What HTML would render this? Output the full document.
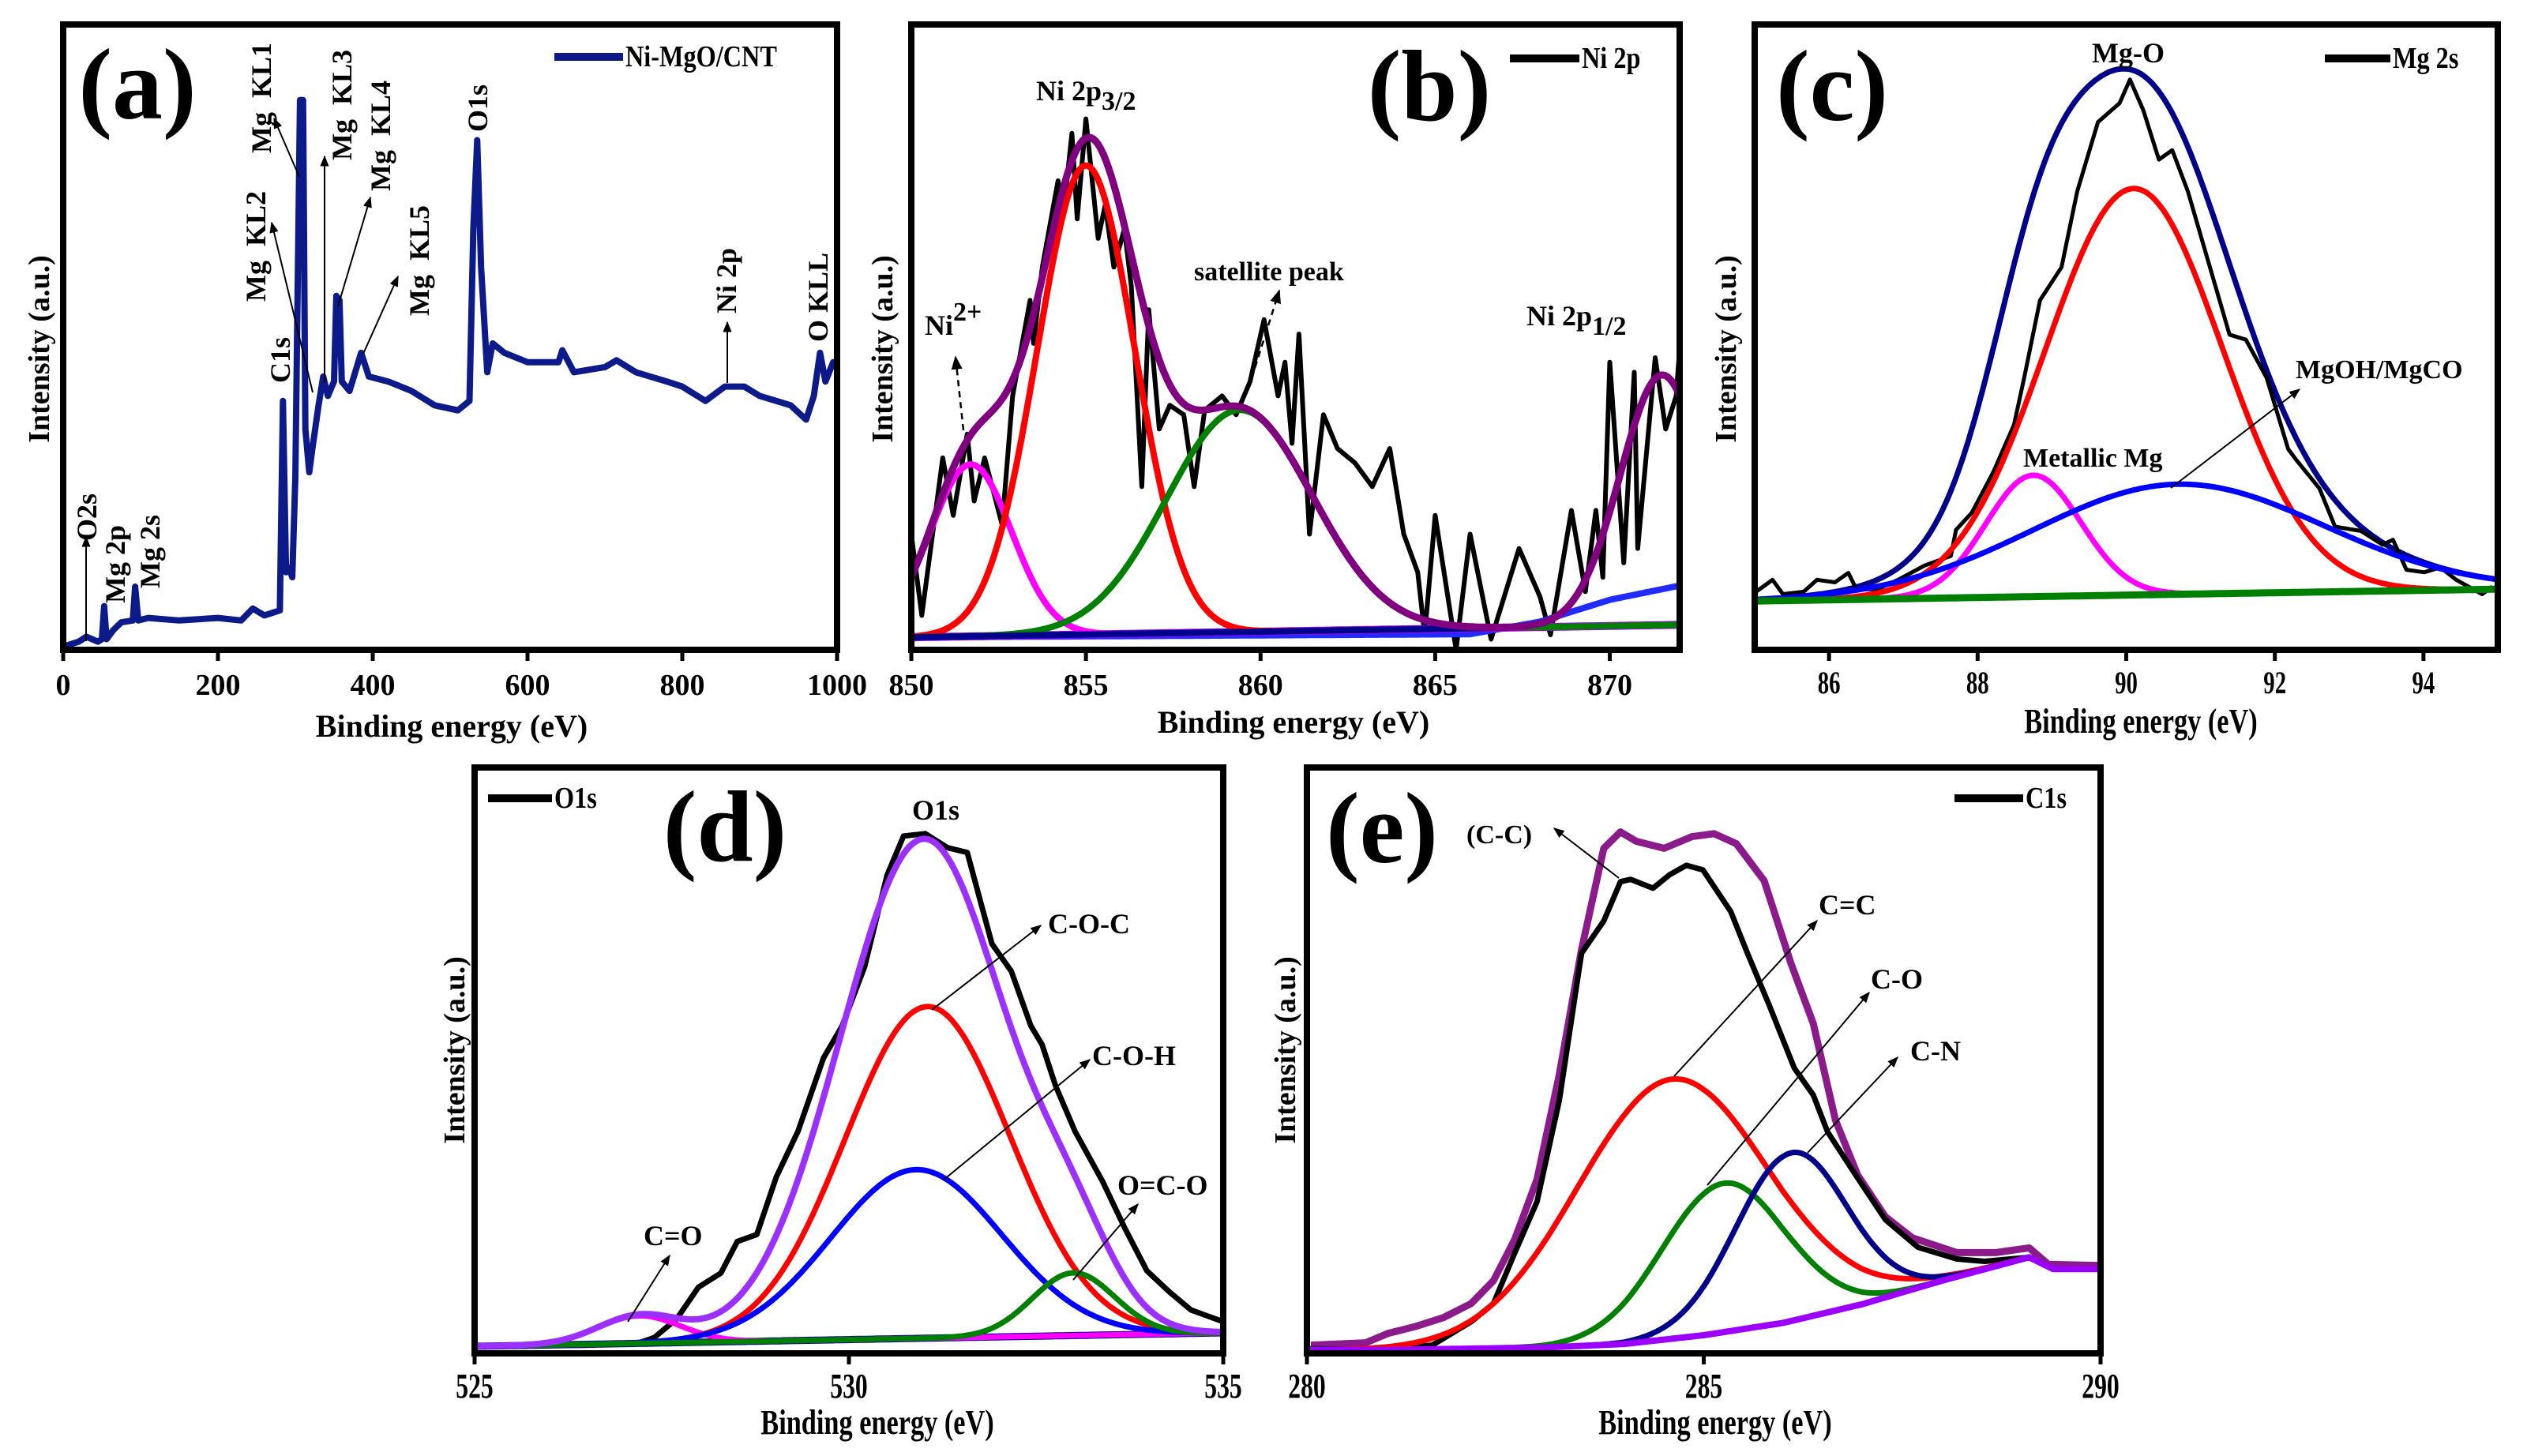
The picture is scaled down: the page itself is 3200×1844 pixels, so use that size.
<!DOCTYPE html>
<html><head><meta charset="utf-8">
<style>
html,body{margin:0;padding:0;background:#fff;}
svg{display:block;font-family:"Liberation Serif",serif;font-weight:bold;}
</style></head>
<body>
<svg id="chart" width="3200" height="1844" viewBox="0 0 3200 1844" xmlns="http://www.w3.org/2000/svg">
<defs>
<marker id="arr" viewBox="0 0 10 10" refX="9" refY="5" markerWidth="7" markerHeight="7" orient="auto"><path d="M0,1 L10,5 L0,9 z" fill="#000"/></marker>
</defs>
</svg>
<script>
// ---------- Panel (a) survey data ----------
const aEnergy=[0,20,30,45,50,53,56,65,75,90,93,97,110,150,200,230,245,260,280,284,288,292,296,300,306,310,313,318,322,330,336,342,350,353,357,360,370,385,395,420,450,480,510,525,530,535,540,548,555,570,600,640,645,660,700,715,740,780,800,830,855,880,900,940,960,970,978,985,995,1000];
const aIntensity=[0.5,1.3,2.1,1.3,1.7,7.0,1.7,3.2,4.4,4.7,10.1,4.7,5.1,4.7,5.1,4.7,6.6,5.5,6.3,39.8,12.4,13.1,11.6,27.6,87.9,87.9,35.3,28.4,32.2,39.1,43.7,40.6,42.9,56.6,55.9,42.9,41.4,47.5,43.7,42.9,41.4,39.1,38.3,39.8,67.3,81.5,61.2,44.4,49.0,47.5,46.0,46.0,47.9,44.4,45.2,46.3,44.4,42.9,42.1,39.8,42.1,42.1,40.6,39.1,36.8,40.6,47.5,42.9,46.0,46.0];
const aTicks=[0,200,400,600,800,1000];

// ---------- Panel (b) Ni 2p ----------
const bEnergy=[850.0,850.3,850.9,851.2,851.6,851.8,852.1,852.6,852.9,853.4,853.5,853.75,854.2,854.35,854.6,854.75,855.0,855.35,855.55,855.8,856.1,856.3,856.6,856.8,857.1,857.4,857.8,858.1,858.4,858.9,859.3,859.7,860.1,860.5,860.7,860.9,861.1,861.4,861.8,862.2,862.7,863.2,863.7,864.1,864.5,864.7,865.0,865.6,866.0,866.6,867.4,868.0,868.3,868.9,869.3,869.6,869.8,870.0,870.4,870.7,870.8,871.3,871.6,871.9,872.05];
const bIntensity=[18.5,5.5,30.7,21.5,34.5,23.8,30.7,20.0,40.6,55.9,49.0,61.2,75.0,69.6,82.6,68.9,84.9,65.8,71.1,61.2,67.3,58.2,26.1,54.4,35.3,39.1,37.6,26.1,38.3,40.6,37.6,42.9,52.8,40.6,46.0,33.0,50.5,18.5,37.6,32.2,29.9,26.1,32.2,18.5,12.4,2.4,21.5,0,18.5,1.7,16.2,8.5,2.4,22.3,9.3,22.3,11.6,46.0,13.9,44.4,16.2,46.7,35.3,40.6,52.1];
const bPeakCenter=[851.7,855.0,859.4,871.5];
const bPeakHeight=[27.5,75,35.5,40];
const bPeakWidth=[1.17,1.4,2.09,1.2];
const bBgEnergy=[850,866,868,870,872.2];
const bBgValue=[2,2.5,4.5,8,10.5];
const bTicks=[850,855,860,865,870];

// ---------- Panel (c) Mg 2s ----------
const cEnergy=[85.02,85.24,85.38,85.66,85.84,86.08,86.26,86.37,86.65,86.93,87.29,87.64,87.71,87.92,88.21,88.49,88.63,88.84,89.13,89.34,89.62,89.91,90.05,90.23,90.44,90.62,90.83,91.39,91.61,91.89,92.18,92.28,92.60,92.81,93.16,93.45,93.59,93.77,94.01,94.23,94.44,94.79,94.93];
const cIntensity=[9.3,11.2,8.9,9.3,11.2,10.8,12.3,9.7,9.7,11.2,13.5,15.0,19.2,21.9,28.4,36.0,43.7,55.9,61.2,73.3,84.4,87.4,91.2,86.3,78.4,79.9,73.3,50.4,49.6,43.5,32.1,30.5,25.8,19.7,19.0,16.8,17.6,12.8,12.4,13.2,11.2,8.9,10.1];
const cPeakCenter=[90.1,88.75,90.7];
const cPeakHeight=[65,19.4,17.6];
const cPeakWidth=[1.19,0.64,1.95];
const cBaseline=[7.8,9.7];
const cTicks=[86,88,90,92,94];

// ---------- Panel (d) O 1s ----------
const dEnergy=[525.0,526.5,527.2,527.40,527.70,527.99,528.29,528.51,528.77,529.03,529.32,529.66,529.91,530.21,530.51,530.73,531.02,531.32,531.58,531.91,532.17,532.43,532.58,532.76,533.02,533.39,533.68,533.98,534.28,534.57,534.98];
const dIntensity=[1.2,1.4,1.8,2.7,5.9,11.3,13.7,19.1,20.3,30.1,37.9,50.4,55.9,66.0,81.6,88.3,88.7,86.3,85.5,69.9,65.2,55.9,52.7,45.7,37.9,29.3,21.5,14.1,10.5,7.4,5.5];
const dPeakCenter=[527.2,531.05,530.9,533.0];
const dPeakHeight=[4.7,56.6,28.8,10.7];
const dPeakWidth=[0.55,1.1,1.14,0.55];
const dBaseline=[1.2,3.5];
const dTicks=[525,530,535];

// ---------- Panel (e) C 1s ----------
const eEnergy=[280.0,281.0,281.58,282.07,282.35,282.62,282.90,283.18,283.46,283.74,283.95,284.08,284.36,284.57,284.78,284.99,285.34,285.55,285.82,286.14,286.38,286.56,286.94,287.29,287.70,288.19,288.54,289.1];
const eIntensity=[0.8,0.6,1.4,5.4,8.5,17.2,25.9,43.2,68.3,73.8,80.5,80.9,79.4,81.7,83.3,82.5,75.4,68.3,59.6,48.7,44.1,37.8,29.9,22.8,18.1,16.1,15.7,16.4];
const eEnvEnergy=[280.05,280.74,281.02,281.37,281.72,282.07,282.35,282.62,282.90,283.18,283.46,283.74,283.95,284.15,284.50,284.85,285.13,285.41,285.76,286.10,286.38,286.66,286.94,287.29,287.63,288.19,288.68,289.10,289.34,290.0];
const eEnvValue=[1.4,1.8,3.4,4.6,6.1,8.5,12.4,19.5,29.7,47.6,68.9,86.2,89.0,87.4,86.2,88.2,88.7,87.0,80.7,66.5,56.3,39.8,30.4,23.3,19.7,17.2,17.2,18.0,15.2,15.0];
const eBgEnergy=[280,281,282,283,284,285,286,287,288,289.1,289.4,290];
const eBgValue=[0.6,0.6,0.8,1.0,1.6,3.1,5.2,8.4,12.4,16.4,14.4,14.4];
const ePeakCenter=[284.6,285.25,286.1];
const ePeakHeight=[44.3,25.4,28.7];
const ePeakWidth=[1.2,0.78,0.7];
const eTicks=[280,285,290];

const NS='http://www.w3.org/2000/svg';
const svg=document.getElementById('chart');
function el(tag,parent){const e=document.createElementNS(NS,tag);parent.appendChild(e);return e;}
function gauss(c,h,w,x){return h*Math.exp(-(x-c)*(x-c)/(2*w*w));}
function interp(xs,ys,x){
  if(x<=xs[0])return ys[0];
  for(let i=1;i<xs.length;i++){if(x<=xs[i]){const t=(x-xs[i-1])/(xs[i]-xs[i-1]);return ys[i-1]+t*(ys[i]-ys[i-1]);}}
  return ys[ys.length-1];
}
function makeScale(p){return {x:v=>p.x0+(v-p.d0)/(p.d1-p.d0)*(p.x1-p.x0),y:v=>p.y1-(v/100)*(p.y1-p.y0)};}
function pathD(xs,ys,s){let d='';for(let i=0;i<xs.length;i++){d+=(i?'L':'M')+s.x(xs[i]).toFixed(1)+','+s.y(ys[i]).toFixed(1);}return d;}
function sample(p,f){const xs=[],ys=[];const n=300;for(let i=0;i<=n;i++){const x=p.d0+(p.d1-p.d0)*i/n;xs.push(x);ys.push(f(x));}return [xs,ys];}
function curve(g,xs,ys,s,color,w,name){
  const p=el('path',g);
  p.setAttribute('d',pathD(xs,ys,s));
  p.setAttribute('fill','none');p.setAttribute('stroke',color);p.setAttribute('stroke-width',w);
  p.setAttribute('stroke-linejoin','round');
  
  
  return p;
}
function txt(g,x,y,str,size,name,anchor,rot){
  const t=el('text',g);
  t.setAttribute('x',x);t.setAttribute('y',y);t.setAttribute('font-size',size);
  t.setAttribute('text-anchor',anchor||'start');
  if(rot)t.setAttribute('transform','rotate(-90 '+x+' '+y+')');
  t.textContent=str;
  
  
  return t;
}
function arrow(g,x1,y1,x2,y2,name,dash){
  const l=el('line',g);
  l.setAttribute('x1',x1);l.setAttribute('y1',y1);l.setAttribute('x2',x2);l.setAttribute('y2',y2);
  l.setAttribute('stroke','#000');l.setAttribute('stroke-width',dash?2.5:2);
  if(dash)l.setAttribute('stroke-dasharray','8,6');
  l.setAttribute('marker-end','url(#arr)');
  
  
}
function panel(p){
  const g=el('g',svg);
  
  
  const cp=el('clipPath',g);cp.setAttribute('id','clip-'+p.id);
  const cr=el('rect',cp);cr.setAttribute('x',p.x0);cr.setAttribute('y',p.y0);cr.setAttribute('width',p.x1-p.x0);cr.setAttribute('height',p.y1-p.y0);
  const plot=el('g',g);plot.setAttribute('clip-path','url(#clip-'+p.id+')');
  
  
  const s=makeScale(p);
  const tg=el('g',g);
  
  
  p.ticks.forEach(v=>{
    const X=s.x(v);
    const tk=el('line',tg);tk.setAttribute('x1',X);tk.setAttribute('x2',X);tk.setAttribute('y1',p.y1);tk.setAttribute('y2',p.y1+14);
    tk.setAttribute('stroke','#000');tk.setAttribute('stroke-width',5);
    
    
    const t=txt(tg,X,p.tickY,String(v),p.tickSize,'x-tick-label','middle');
    if(p.condensed){t.setAttribute('transform','translate('+X+' 0) scale(0.72 1) translate('+(-X)+' 0)');}
  });
  const xt=txt(g,p.titleX,p.titleY,'Binding energy (eV)',p.titleSize||40,'x-axis-title','middle');
  if(p.condensed){xt.setAttribute('transform','translate('+p.titleX+' 0) scale(0.78 1) translate('+(-p.titleX)+' 0)');}
  txt(g,p.ylabX,p.ylabY,'Intensity (a.u.)',38,'y-axis-title','middle',true);
  return {g,plot,s};
}
function frame(g,p){
  const r=el('rect',g);
  r.setAttribute('x',p.x0);r.setAttribute('y',p.y0);r.setAttribute('width',p.x1-p.x0);r.setAttribute('height',p.y1-p.y0);
  r.setAttribute('fill','none');r.setAttribute('stroke','#000');r.setAttribute('stroke-width',8);
  
  
}
function legend(g,x1,x2,y,color,label,name){
  const lg=el('g',g);
  
  
  const l=el('line',lg);l.setAttribute('x1',x1);l.setAttribute('x2',x2);l.setAttribute('y1',y);l.setAttribute('y2',y);
  l.setAttribute('stroke',color);l.setAttribute('stroke-width',10);
  
  
  const t=txt(lg,x2+3,y+12,label,38,'legend-label');
  t.setAttribute('transform','translate('+(x2+3)+' 0) scale(0.85 1) translate('+(-(x2+3))+' 0)');
}
function letter(g,x,y,str){txt(g,x,y,str,128,'panel-label','middle');}

// ===== Panel a =====
{
const p={id:'a',x0:80,x1:1060,y0:31,y1:823,d0:0,d1:1000,ticks:aTicks,tickY:880,tickSize:38,titleX:572,titleY:933,ylabX:62,ylabY:442};
const P=panel(p);
curve(P.plot,aEnergy,aIntensity,P.s,'#0d1b8a',8,'survey-spectrum');
frame(P.g,p);
legend(P.g,702,789,72,'#0d1b8a','Ni-MgO/CNT','legend-ni-mgo-cnt');
letter(P.g,174,150,'(a)');
const L=[[122,685,'O2s'],[158,764,'Mg 2p'],[202,745,'Mg 2s'],[367,485,'C1s'],[336,382,'Mg\u00a0\u00a0KL2'],[343,194,'Mg\u00a0\u00a0KL1'],[445,203,'Mg\u00a0\u00a0KL3'],[494,242,'Mg\u00a0\u00a0KL4'],[543,400,'Mg\u00a0\u00a0KL5'],[617,167,'O1s'],[932,397,'Ni 2p'],[1048,433,'O KLL']];
L.forEach(q=>txt(P.g,q[0],q[1],q[2],36,'peak-label-'+q[2].replace(/[\s\u00a0]+/g,'-').toLowerCase(),'start',true));
arrow(P.g,109,812,109,680,'arrow-o2s');
arrow(P.g,379,224,347,150,'arrow-mg-kl1');
arrow(P.g,396,497,344,282,'arrow-mg-kl2');
arrow(P.g,411,485,411,198,'arrow-mg-kl3');
arrow(P.g,428,388,469,250,'arrow-mg-kl4');
arrow(P.g,460,448,504,350,'arrow-mg-kl5');
arrow(P.g,921,485,921,408,'arrow-ni-2p');
}

// ===== Panel b =====
{
const p={id:'b',x0:1154,x1:2127,y0:31,y1:823,d0:850,d1:872.0,ticks:bTicks,tickY:880,tickSize:38,titleX:1638,titleY:928,ylabX:1130,ylabY:442};
const P=panel(p);const s=P.s;
const base=x=>2+2*(x-850)/22;
curve(P.plot,bEnergy,bIntensity,s,'#000',6,'ni2p-raw');
let r=sample(p,x=>interp(bBgEnergy,bBgValue,x));curve(P.plot,r[0],r[1],s,'#1f2bff',8,'background-blue');
r=sample(p,x=>base(x));curve(P.plot,r[0],r[1],s,'#9b00ff',10,'baseline');
const cols=['#ff00ff','#ff0000','#008000','#00008b'];
const names=['peak-ni2plus','peak-ni-2p3-2','peak-satellite','peak-ni-2p1-2'];
for(let i=0;i<bPeakCenter.length;i++){
  r=sample(p,x=>base(x)+gauss(bPeakCenter[i],bPeakHeight[i],bPeakWidth[i],x));
  curve(P.plot,r[0],r[1],s,cols[i],8,names[i]);
}
r=sample(p,x=>{let v=base(x);for(let i=0;i<bPeakCenter.length;i++)v+=gauss(bPeakCenter[i],bPeakHeight[i],bPeakWidth[i],x);return v;});
curve(P.plot,r[0],r[1],s,'#800080',9,'envelope');
frame(P.g,p);
legend(P.g,1912,2000,74,'#000','Ni 2p','legend-ni-2p');
letter(P.g,1810,152,'(b)');
const t1=txt(P.g,1312,127,'Ni 2p',36,'label-ni-2p3-2');const ts=el('tspan',t1);ts.setAttribute('dy','12');ts.setAttribute('font-size','34');ts.textContent='3/2';
const t2=txt(P.g,1171,424,'Ni',36,'label-ni2plus');const ts2=el('tspan',t2);ts2.setAttribute('dy','-18');ts2.setAttribute('font-size','34');ts2.textContent='2+';
txt(P.g,1512,355,'satellite peak',34,'label-satellite-peak');
const t3=txt(P.g,1933,412,'Ni 2p',36,'label-ni-2p1-2');const ts3=el('tspan',t3);ts3.setAttribute('dy','12');ts3.setAttribute('font-size','34');ts3.textContent='1/2';
arrow(P.g,1220,545,1210,452,'arrow-ni2plus',true);
arrow(P.g,1585,479,1620,368,'arrow-satellite',true);
}

// ===== Panel c =====
{
const p={id:'c',x0:2222,x1:3163,y0:31,y1:823,d0:85,d1:95,ticks:cTicks,tickY:878,tickSize:40,condensed:true,titleX:2711,titleY:928,titleSize:44,ylabX:2198,ylabY:442};
const P=panel(p);const s=P.s;
const base=x=>cBaseline[0]+(cBaseline[1]-cBaseline[0])*(x-85)/10;
const cols=['#ff0000','#ff00ff','#0000ff'];
const names=['peak-mg-o','peak-metallic-mg','peak-mgoh-mgco'];
let r=sample(p,x=>{let v=base(x);for(let i=0;i<cPeakCenter.length;i++)v+=gauss(cPeakCenter[i],cPeakHeight[i],cPeakWidth[i],x);return v;});
curve(P.plot,r[0],r[1],s,'#00008b',7,'envelope');
curve(P.plot,cEnergy,cIntensity,s,'#000',5,'mg2s-raw');
for(let i=0;i<cPeakCenter.length;i++){
  r=sample(p,x=>base(x)+gauss(cPeakCenter[i],cPeakHeight[i],cPeakWidth[i],x));
  curve(P.plot,r[0],r[1],s,cols[i],7,names[i]);
}
r=sample(p,x=>base(x));curve(P.plot,r[0],r[1],s,'#008000',9,'baseline');
frame(P.g,p);
legend(P.g,2944,3027,74,'#000','Mg 2s','legend-mg-2s');
letter(P.g,2320,152,'(c)');
txt(P.g,2695,79,'Mg-O',36,'label-mg-o','middle');
txt(P.g,2562,591,'Metallic Mg',34,'label-metallic-mg');
txt(P.g,2907,479,'MgOH/MgCO',34,'label-mgoh-mgco');
arrow(P.g,2749,618,2912,493,'arrow-mgoh');
}

// ===== Panel d =====
{
const p={id:'d',x0:601,x1:1549,y0:972,y1:1714,d0:525,d1:535,ticks:dTicks,tickY:1770,tickSize:44,condensed:true,titleX:1111,titleY:1816,titleSize:44,ylabX:588,ylabY:1330};
const P=panel(p);const s=P.s;
const base=x=>dBaseline[0]+(dBaseline[1]-dBaseline[0])*(x-525)/10;
const cols=['#ff00ff','#ff0000','#0000ff','#008000'];
const names=['peak-c-o-double','peak-c-o-c','peak-c-o-h','peak-o-c-o'];
curve(P.plot,dEnergy,dIntensity,s,'#000',7,'o1s-raw');
let r=sample(p,x=>base(x));curve(P.plot,r[0],r[1],s,'#00008b',9,'baseline');
for(let i=0;i<dPeakCenter.length;i++){
  r=sample(p,x=>base(x)+gauss(dPeakCenter[i],dPeakHeight[i],dPeakWidth[i],x));
  curve(P.plot,r[0],r[1],s,cols[i],7,names[i]);
}
r=sample(p,x=>{let v=base(x);for(let i=0;i<dPeakCenter.length;i++)v+=gauss(dPeakCenter[i],dPeakHeight[i],dPeakWidth[i],x);return v;});
curve(P.plot,r[0],r[1],s,'#9b30ff',8,'envelope');
frame(P.g,p);
legend(P.g,618,699,1011,'#000','O1s','legend-o1s');
letter(P.g,918,1090,'(d)');
txt(P.g,1185,1038,'O1s',36,'label-o1s','middle');
txt(P.g,1327,1182,'C-O-C',36,'label-c-o-c');
txt(P.g,1383,1349,'C-O-H',36,'label-c-o-h');
txt(P.g,1415,1513,'O=C-O',36,'label-o-c-o');
txt(P.g,815,1577,'C=O',36,'label-c-double-o');
arrow(P.g,1180,1279,1318,1172,'arrow-c-o-c');
arrow(P.g,1194,1495,1380,1342,'arrow-c-o-h');
arrow(P.g,1359,1621,1441,1525,'arrow-o-c-o');
arrow(P.g,795,1674,848,1590,'arrow-c-double-o');
}

// ===== Panel e =====
{
const p={id:'e',x0:1655,x1:2660,y0:972,y1:1714,d0:280,d1:290,ticks:eTicks,tickY:1770,tickSize:44,condensed:true,titleX:2172,titleY:1816,titleSize:44,ylabX:1640,ylabY:1330};
const P=panel(p);const s=P.s;
const base=x=>interp(eBgEnergy,eBgValue,x);
const cols=['#ff0000','#008000','#00008b'];
const names=['peak-c-c-double','peak-c-o','peak-c-n'];
curve(P.plot,eEnvEnergy,eEnvValue,s,'#8b1a8b',9,'envelope');
curve(P.plot,eEnergy,eIntensity,s,'#000',7,'c1s-raw');
for(let i=0;i<ePeakCenter.length;i++){
  let r=sample(p,x=>base(x)+gauss(ePeakCenter[i],ePeakHeight[i],ePeakWidth[i],x));
  curve(P.plot,r[0],r[1],s,cols[i],7,names[i]);
}
let r=sample(p,x=>base(x));curve(P.plot,r[0],r[1],s,'#9b00ff',8,'baseline');
frame(P.g,p);
legend(P.g,2475,2562,1011,'#000','C1s','legend-c1s');
letter(P.g,1750,1092,'(e)');
txt(P.g,1857,1068,'(C-C)',34,'label-c-c');
txt(P.g,2303,1158,'C=C',36,'label-c-double-c');
txt(P.g,2369,1252,'C-O',36,'label-c-o');
txt(P.g,2419,1343,'C-N',36,'label-c-n');
arrow(P.g,2050,1112,1968,1049,'arrow-c-c');
arrow(P.g,2120,1363,2301,1166,'arrow-c-double-c');
arrow(P.g,2162,1501,2367,1257,'arrow-c-o');
arrow(P.g,2289,1460,2403,1339,'arrow-c-n');
}
</script>
</body></html>
